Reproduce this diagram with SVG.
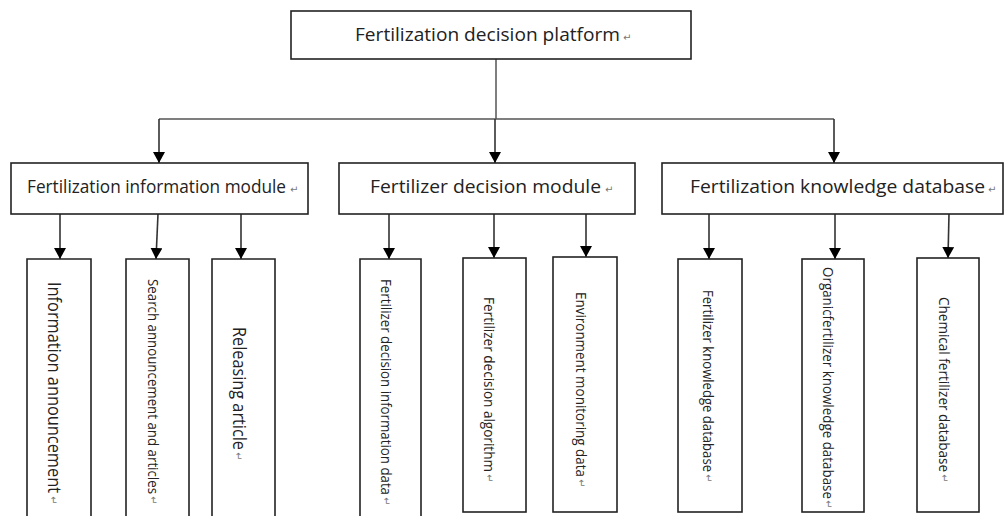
<svg xmlns="http://www.w3.org/2000/svg" width="1004" height="516" viewBox="0 0 1004 516">
<style>
.box{fill:#fff;stroke:#222;stroke-width:1.6}
.t{font-family:"Open Sans","Liberation Sans",sans-serif;fill:#222}
.h{font-size:18px}
.v{font-size:15px}
.vb{font-size:18px}
.pm{font-family:"DejaVu Sans",sans-serif;font-size:10px;fill:#777}
.ln{stroke:#333;stroke-width:1.6;fill:none}
.lg{stroke:#555;stroke-width:1.5;fill:none}
</style>
<defs>
<marker id="ah" markerUnits="userSpaceOnUse" markerWidth="11" markerHeight="12" refX="11" refY="6" orient="auto" viewBox="0 0 11 12">
<path d="M0,0 L11,6 L0,12 z" fill="#000"/>
</marker>
</defs>
<rect width="1004" height="516" fill="#fff"/>
<g id="connectors">
<path class="lg" d="M496,59 V119 M159,119 H834"/>
<line class="ln" x1="159" y1="119" x2="159" y2="163" marker-end="url(#ah)"/>
<line class="ln" x1="495" y1="119" x2="495" y2="163" marker-end="url(#ah)"/>
<line class="ln" x1="834" y1="119" x2="834" y2="163" marker-end="url(#ah)"/>
<line class="ln" x1="60" y1="214" x2="60" y2="259" marker-end="url(#ah)"/>
<line class="ln" x1="158" y1="214" x2="156" y2="259" marker-end="url(#ah)"/>
<line class="ln" x1="241" y1="214" x2="241" y2="259" marker-end="url(#ah)"/>
<line class="ln" x1="389" y1="214" x2="389" y2="259" marker-end="url(#ah)"/>
<line class="ln" x1="494" y1="214" x2="494" y2="258" marker-end="url(#ah)"/>
<line class="ln" x1="586" y1="214" x2="586" y2="257" marker-end="url(#ah)"/>
<line class="ln" x1="709" y1="214" x2="709" y2="259" marker-end="url(#ah)"/>
<line class="ln" x1="835" y1="214" x2="835" y2="259" marker-end="url(#ah)"/>
<line class="ln" x1="949" y1="214" x2="948" y2="258" marker-end="url(#ah)"/>
</g>
<g id="root">
<rect class="box" x="291" y="11" width="400" height="48"/>
<text class="t h" x="355" y="41" textLength="265" lengthAdjust="spacingAndGlyphs">Fertilization decision platform</text>
<text class="pm" x="623" y="41">↵</text>
</g>
<g id="m1">
<rect class="box" x="11" y="163" width="297" height="51"/>
<text class="t h" x="27" y="193" textLength="259" lengthAdjust="spacingAndGlyphs">Fertilization information module</text>
<text class="pm" x="290" y="193">↵</text>
</g>
<g id="m2">
<rect class="box" x="339" y="163" width="296" height="51"/>
<text class="t h" x="370" y="193" textLength="231" lengthAdjust="spacingAndGlyphs">Fertilizer decision module</text>
<text class="pm" x="605" y="193">↵</text>
</g>
<g id="m3">
<rect class="box" x="662" y="163" width="341" height="51"/>
<text class="t h" x="690" y="193" textLength="295" lengthAdjust="spacingAndGlyphs">Fertilization knowledge database</text>
<text class="pm" x="988" y="193">↵</text>
</g>
<g id="b1">
<path class="box" d="M27,520 V259 H91 V520"/>
<text class="t vb" transform="translate(48,282) rotate(90)" textLength="211" lengthAdjust="spacingAndGlyphs">Information announcement</text>
<text class="pm" transform="translate(50,496) rotate(90)">↵</text>
</g>
<g id="b2">
<path class="box" d="M126,520 V259 H189 V520"/>
<text class="t v" transform="translate(148,279) rotate(90)" textLength="215" lengthAdjust="spacingAndGlyphs">Search announcement and articles</text>
<text class="pm" transform="translate(150,496) rotate(90)">↵</text>
</g>
<g id="b3">
<path class="box" d="M212,520 V259 H275 V520"/>
<text class="t vb" transform="translate(233,327) rotate(90)" textLength="123" lengthAdjust="spacingAndGlyphs">Releasing article</text>
<text class="pm" transform="translate(235,452) rotate(90)">↵</text>
</g>
<g id="b4">
<path class="box" d="M360,520 V259 H421 V520"/>
<text class="t v" transform="translate(381,279) rotate(90)" textLength="216" lengthAdjust="spacingAndGlyphs">Fertilizer decision information data</text>
<text class="pm" transform="translate(383,497) rotate(90)">↵</text>
</g>
<g id="b5">
<rect class="box" x="463" y="258" width="63" height="254"/>
<text class="t v" transform="translate(484,297) rotate(90)" textLength="175" lengthAdjust="spacingAndGlyphs">Fertilizer decision algorithm</text>
<text class="pm" transform="translate(486,474) rotate(90)">↵</text>
</g>
<g id="b6">
<rect class="box" x="553" y="257" width="64" height="255"/>
<text class="t v" transform="translate(576,292) rotate(90)" textLength="185" lengthAdjust="spacingAndGlyphs">Environment monitoring data</text>
<text class="pm" transform="translate(578,479) rotate(90)">↵</text>
</g>
<g id="b7">
<rect class="box" x="678" y="259" width="64" height="253"/>
<text class="t v" transform="translate(703,290) rotate(90)" textLength="182" lengthAdjust="spacingAndGlyphs">Fertilizer knowledge database</text>
<text class="pm" transform="translate(705,474) rotate(90)">↵</text>
</g>
<g id="b8">
<rect class="box" x="802" y="259" width="62" height="253"/>
<text class="t v" transform="translate(823,267) rotate(90)" textLength="232" lengthAdjust="spacingAndGlyphs">Organicfertilizer knowledge database</text>
<text class="pm" transform="translate(825,500) rotate(90)">↵</text>
</g>
<g id="b9">
<rect class="box" x="917" y="258" width="62" height="254"/>
<text class="t v" transform="translate(939,297) rotate(90)" textLength="175" lengthAdjust="spacingAndGlyphs">Chemical fertilizer database</text>
<text class="pm" transform="translate(941,474) rotate(90)">↵</text>
</g>
</svg>
